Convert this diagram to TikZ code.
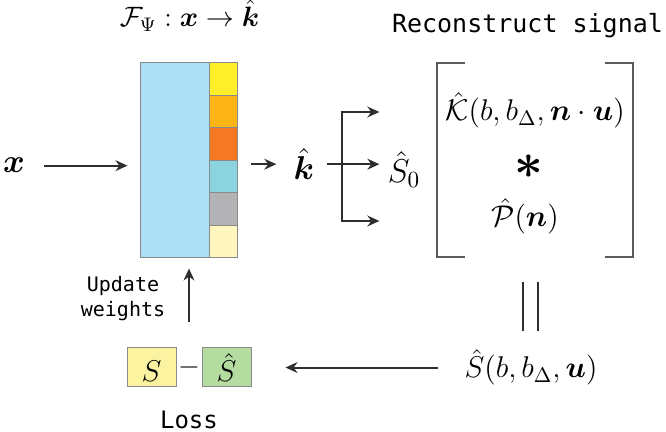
\RequirePackage{fix-cm}
\documentclass[tikz,border=0pt]{standalone}
\usepackage{amsmath,bm}
\usepackage{fontspec}
\newfontfamily\monofam{DejaVu Sans Mono}
\usetikzlibrary{arrows.meta,calc}
\definecolor{netblue}{HTML}{AEE0F5}
\definecolor{cA}{HTML}{FFEE2A}
\definecolor{cB}{HTML}{FDB515}
\definecolor{cC}{HTML}{F47922}
\definecolor{cD}{HTML}{8AD3DF}
\definecolor{cE}{HTML}{B3B3B5}
\definecolor{cF}{HTML}{FEF6BE}
\definecolor{syel}{HTML}{FCF3A0}
\definecolor{sgrn}{HTML}{B4DCA0}
\definecolor{bord}{HTML}{8A8A8A}
\definecolor{linec}{HTML}{2E2E2E}
\definecolor{brc}{HTML}{5A5A5A}
\tikzset{
  mth/.style={inner sep=0pt, font=\fontsize{14}{17}\selectfont},
  mthB/.style={inner sep=0pt, font=\fontsize{15}{18}\selectfont},
  mthL/.style={inner sep=0pt, font=\fontsize{16.5}{20}\selectfont},
  monotxt/.style={inner sep=0pt, font=\monofam\fontsize{12.5}{15}\selectfont},
  arr/.style={draw=linec, line width=1pt, -{Stealth[length=6pt,width=5.4pt]}},
  ln/.style={draw=linec, line width=1pt},
  brk/.style={draw=brc, line width=0.8pt},
  cell/.style={draw=bord, line width=0.5pt, inner sep=0pt, minimum width=14pt, minimum height=16.25pt},
  lbox/.style={draw=bord, line width=0.5pt, inner sep=0pt, minimum width=24.5pt, minimum height=19.5pt, font=\fontsize{15}{18}\selectfont},
}
\begin{document}
\begin{tikzpicture}[x=0.5pt,y=-0.5pt]
\useasboundingbox (0,0) rectangle (666,432);
% title
\node[mth,anchor=base] (title) at (189.5,27) {$\mathcal{F}_{\Psi} : \bm{x} \to \bm{\hat{k}}$};
% input
\node[mthL,anchor=base] (xin) at (14,173) {$\bm{x}$};
% network
\node[draw=bord, fill=netblue, line width=0.5pt, inner sep=0pt, minimum width=34.5pt, minimum height=97.5pt] (net) at (174.5,160.5) {};
\node[cell, fill=cA] (c1) at (223,79.25) {};
\node[cell, fill=cB] (c2) at (223,111.75) {};
\node[cell, fill=cC] (c3) at (223,144.25) {};
\node[cell, fill=cD] (c4) at (223,176.75) {};
\node[cell, fill=cE] (c5) at (223,209.25) {};
\node[cell, fill=cF] (c6) at (223,241.75) {};
% k hat and S0
\node[mthL,anchor=base] (kk) at (304,180) {$\bm{\hat{k}}$};
\node[mthL,anchor=base] (s0) at (404,183) {$\hat{S}_0$};
% connectors
\draw[arr] ($(xin.east)+(19,0)$) -- ($(xin.east -| net.west)+(-12,0)$);
\draw[arr] ($(kk.west -| c3.east)+(13,0)$) -- ($(kk.west)+(-17,0)$);
\draw[arr] ($(kk.east)+(12,0)$) -- ($(kk.east -| s0.west)+(-8,0)$);
\coordinate (bt) at (342,112);
\coordinate (bb) at (342,221);
\draw[draw=linec, line width=1pt, {Stealth[length=6pt,width=5.4pt]}-{Stealth[length=6pt,width=5.4pt]}]
  ($(bt -| s0.west)+(-8,0)$) -- (bt) -- (bb) -- ($(bb -| s0.west)+(-8,0)$);
% reconstruct signal
\node[monotxt,anchor=base] (rec) at (527.5,33) {Reconstruct signal};
\coordinate (bkNW) at (437,63);
\coordinate (bkSE) at (633,257);
\draw[brk] ($(bkNW)+(28,0)$) -- (bkNW) -- (bkNW |- bkSE) -- ($(bkNW |- bkSE)+(28,0)$);
\draw[brk] ($(bkSE |- bkNW)+(-28,0)$) -- (bkSE |- bkNW) -- (bkSE) -- ($(bkSE)+(-28,0)$);
\node[mthB,anchor=base] (kern) at (535,121) {$\hat{\mathcal{K}}(b, b_{\Delta}, \bm{n}\cdot\bm{u})$};
\node[inner sep=0pt, font=\fontsize{25}{28}\selectfont] (star) at (529,167) {$\bm{\ast}$};
\node[mthB,anchor=base] (pn) at (525,227) {$\hat{\mathcal{P}}(\bm{n})$};
% equality
\draw[ln] (523,282) -- (523,331);
\draw[ln] (538,282) -- (538,331);
\node[mthB,anchor=base] (sh) at (531,378) {$\hat{S}(b, b_{\Delta}, \bm{u})$};
% loss
\node[lbox, fill=syel] (bS) at (151.5,367.5) {$\vphantom{\hat{S}}S$};
\node[lbox, fill=sgrn] (bSh) at (226.5,367.5) {$\hat{S}$};
\node[mth] (mn) at (189,367.5) {$-$};
\draw[arr] ($(sh.west)+(-26,0)$) -- ($(sh.west -| bSh.east)+(34,0)$);
\coordinate (up0) at (189,322);
\draw[arr] (up0) -- ($(up0 |- net.south)+(0,10)$);
\node[inner sep=0pt, align=center, font=\monofam\fontsize{10}{12.5}\selectfont] (upd) at (123,298.5) {Update\\weights};
\node[inner sep=0pt, anchor=base, font=\monofam\fontsize{12}{14}\selectfont] (loss) at (189,429) {Loss};
\end{tikzpicture}
\end{document}
